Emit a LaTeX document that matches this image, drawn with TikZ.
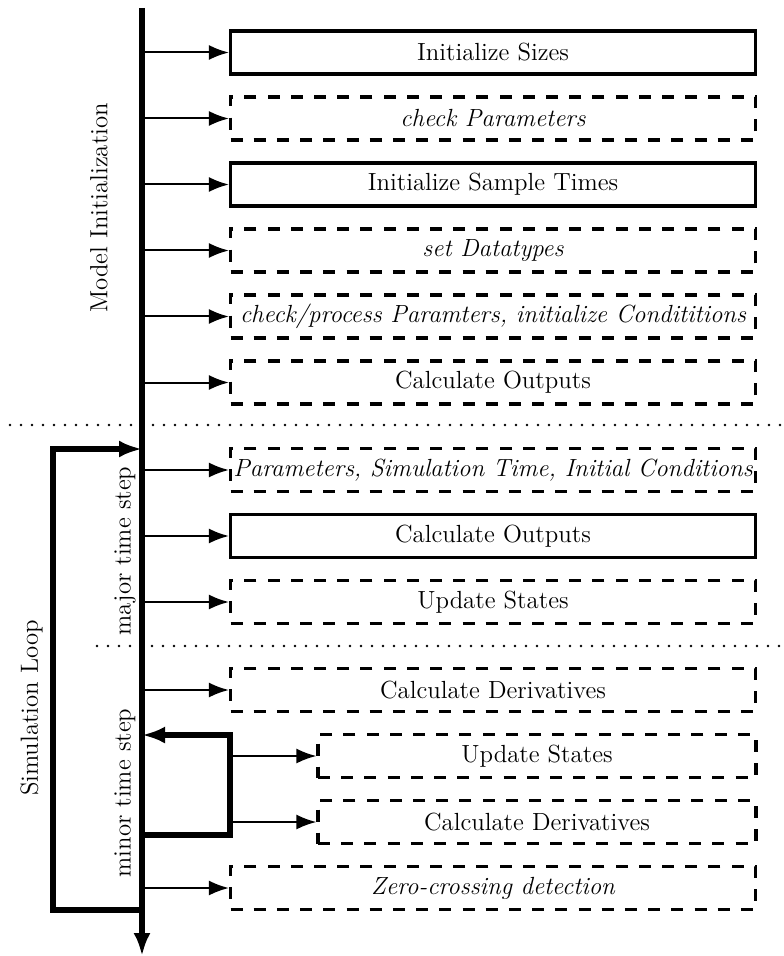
\documentclass[tikz,border=0pt]{standalone}
\usetikzlibrary{arrows.meta, math}

\begin{document}
\begin{tikzpicture}[x=0.5pt, y=-0.5pt,
  every node/.style={font=\fontsize{12.4}{14}\selectfont},
  solidbox/.style={draw, line width=1.6pt, minimum width=262.5pt, minimum height=21.5pt, inner sep=0pt},
  dashbox/.style={solidbox, dash pattern=on 6pt off 5.6pt},
  subbox/.style={minimum width=219pt},
  callarrow/.style={-{Latex[length=10pt,width=7.5pt]}, line width=1pt},
  looparrow/.style={-{Latex[length=11.5pt,width=8.5pt]}, line width=3pt},
  sepline/.style={line width=1.3pt, dash pattern=on 0pt off 5.5pt, line cap=round}
]
\tikzmath{
\xbox=493;
\xsub=537;
}
\useasboundingbox (0,0) rectangle (783,956);

% time axis
\coordinate (top) at (142,8);
\coordinate (bottom) at (142,956);
\draw[line width=3pt, -{Latex[length=11.5pt,width=8.5pt]}] (top) -- (bottom);

% phases
\draw[sepline] (10,425) -- (783,425);
\draw[sepline] (97,646) -- (783,646);

% blocks
\node[solidbox] (sizes) at (\xbox,52.5) {Initialize Sizes};
\node[dashbox] (checkpar) at (\xbox,118.5) {\itshape check Parameters};
\node[solidbox] (sampletimes) at (\xbox,184.5) {Initialize Sample Times};
\node[dashbox] (datatypes) at (\xbox,250.5) {\itshape set Datatypes};
\node[dashbox] (initcond) at (\xbox,316.5) {\itshape check/process Paramters, initialize Condititions};
\node[dashbox] (initout) at (\xbox,382.5) {Calculate Outputs};
\node[dashbox] (params) at (\xbox,470) {\itshape Parameters, Simulation Time, Initial Conditions};
\node[solidbox] (majorout) at (\xbox,536) {Calculate Outputs};
\node[dashbox] (majorupd) at (\xbox,602) {Update States};
\node[dashbox] (minorderiv) at (\xbox,690) {Calculate Derivatives};
\node[dashbox, subbox] (innerupd) at (\xsub,756) {Update States};
\node[dashbox, subbox] (innerderiv) at (\xsub,822) {Calculate Derivatives};
\node[dashbox] (zerocross) at (\xbox,888) {\itshape Zero-crossing detection};

\foreach \blk in {sizes,checkpar,sampletimes,datatypes,initcond,initout,params,majorout,majorupd,minorderiv,zerocross}
  \draw[callarrow] (top |- \blk.west) -- (\blk.west);

% minor loop
\coordinate (mbot) at (230,835);
\coordinate (mtop) at (230,735);
\draw[looparrow] (top |- mbot) -- (mbot) -- (mtop) -- (top |- mtop);
\draw[callarrow] (mtop |- innerupd.west) -- (innerupd.west);
\draw[callarrow] (mtop |- innerderiv.west) -- (innerderiv.west);

% simulation loop
\coordinate (lbot) at (53,910);
\coordinate (ltop) at (53,449);
\draw[looparrow] (top |- lbot) -- (lbot) -- (ltop) -- (top |- ltop);

% labels
\node[rotate=90] (modelinit) at (99,208) {Model Initialization};
\node[rotate=90] (majorlbl) at (125,551) {major time step};
\node[rotate=90] (minorlbl) at (125,793) {minor time step};
\node[rotate=90] (simloop) at (31.5,708) {Simulation Loop};
\end{tikzpicture}
\end{document}
